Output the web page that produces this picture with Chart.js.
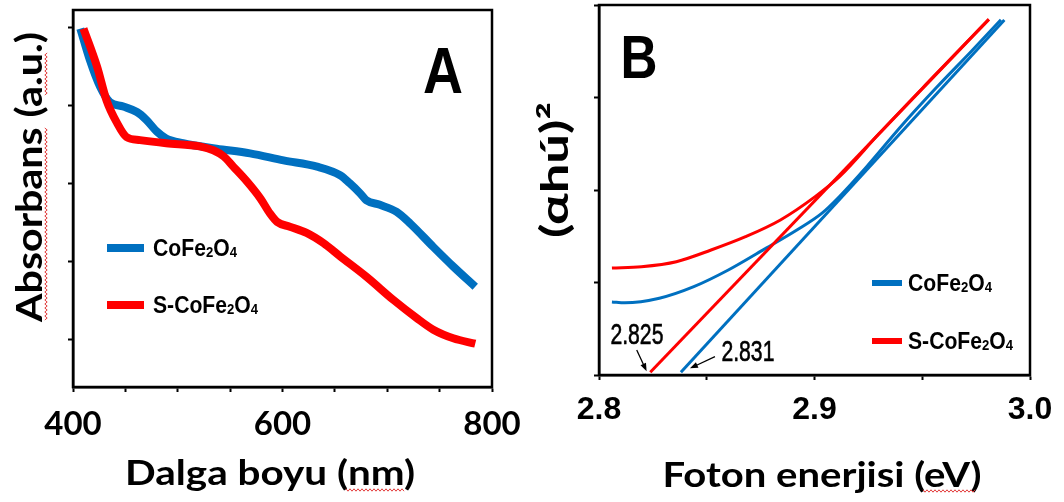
<!DOCTYPE html>
<html>
<head>
<meta charset="utf-8">
<script src="https://cdn.jsdelivr.net/npm/chart.js@4.4.1/dist/chart.umd.min.js"></script>
<style>
  html, body { margin: 0; padding: 0; background: #fff; }
  body { width: 1064px; height: 502px; position: relative; overflow: hidden; }
  canvas { position: absolute; top: 0; }
  #chartA { left: 0; }
  #chartB { left: 520px; }
</style>
</head>
<body>
<canvas id="chartA" width="520" height="502"></canvas>
<canvas id="chartB" width="544" height="502"></canvas>
<script>
// ---- Panel A: absorbance (a.u.) vs wavelength (nm)
const waveCoFe  = [407, 416, 426, 435, 448, 461, 470, 480, 489, 505, 537, 569, 601, 633, 655, 664, 674, 680, 693, 709, 722, 744, 763, 784];
const absCoFe   = [3.98, 3.58, 3.23, 3.04, 2.98, 2.91, 2.81, 2.66, 2.57, 2.51, 2.44, 2.38, 2.29, 2.21, 2.10, 2.00, 1.87, 1.78, 1.72, 1.63, 1.48, 1.18, 0.93, 0.67];
const waveSCoFe = [410, 423, 432, 442, 451, 464, 489, 521, 534, 544, 553, 566, 579, 588, 595, 607, 623, 639, 655, 680, 706, 728, 744, 763, 784];
const absSCoFe  = [3.98, 3.49, 3.06, 2.77, 2.59, 2.55, 2.51, 2.47, 2.42, 2.34, 2.21, 2.02, 1.80, 1.61, 1.50, 1.44, 1.36, 1.23, 1.06, 0.80, 0.50, 0.27, 0.12, 0.01, -0.06];
const waveTicks = [400, 600, 800];

// ---- Panel B: Tauc plot (αhν)² vs photon energy (eV)
const evCoFe    = [2.806, 2.812, 2.828, 2.844, 2.860, 2.876, 2.892, 2.9035, 2.9116, 2.9245, 2.9406, 2.9567, 2.9728, 2.9865];
const taucCoFe  = [0.79, 0.78, 0.83, 0.955, 1.135, 1.35, 1.57, 1.75, 1.93, 2.26, 2.70, 3.11, 3.50, 3.84];
const evSCoFe   = [2.806, 2.8197, 2.8359, 2.852, 2.868, 2.8842, 2.9003, 2.9116, 2.93, 2.955, 2.9809];
const taucSCoFe = [1.157, 1.171, 1.225, 1.351, 1.495, 1.676, 1.928, 2.144, 2.61, 3.22, 3.845];
// linear extrapolations to the energy axis
const fitEvCoFe    = [2.838, 2.9881];
const fitTaucCoFe  = [0.03, 3.838];
const fitEvSCoFe   = [2.8238, 2.9809];
const fitTaucSCoFe = [0.03, 3.845];
const energyTicks = [2.8, 2.9, 3.0];

// band gap call-outs (label anchor + arrow, in data units)
const gapNotes = [
  { text: '2.825', at: [2.8176, 0.34], from: [2.8175, 0.27], to: [2.8221, 0.04] },
  { text: '2.831', at: [2.8691, 0.155], from: [2.8538, 0.198], to: [2.8422, 0.072] }
];

const BLUE = '#0070C0';
const RED = '#FF0000';
const CALIBRI_LIKE = "Lato, 'Open Sans', sans-serif";
const ARIAL = "'Liberation Sans', Arial, sans-serif";

function xy(xs, ys) { return xs.map((x, i) => ({ x, y: ys[i] })); }

/** Draw text scaled horizontally to a target width (figure text is condensed) */
function fitText(ctx, t) {
  ctx.save();
  ctx.font = `${t.weight || 'bold'} ${t.size}px ${t.family}`;
  ctx.fillStyle = '#000';
  ctx.textAlign = t.align || 'center';
  ctx.textBaseline = 'alphabetic';
  const natural = ctx.measureText(t.text).width;
  const sx = t.width ? t.width / natural : 1;
  ctx.translate(t.x, t.y);
  if (t.rotate) ctx.rotate(-Math.PI / 2);
  ctx.scale(sx, 1);
  ctx.fillText(t.text, 0, 0);
  if (t.stroke) {
    ctx.lineWidth = t.stroke;
    ctx.strokeStyle = '#000';
    ctx.strokeText(t.text, 0, 0);
  }
  ctx.restore();
}

/** Chemical formula: unicode subscript digits drawn small */
function drawFormula(ctx, label, x, baseline, size, sx, weight) {
  ctx.save();
  ctx.translate(x, baseline);
  ctx.scale(sx, 1);
  ctx.fillStyle = '#000';
  ctx.textBaseline = 'alphabetic';
  ctx.textAlign = 'left';
  let cx = 0;
  for (const ch of label) {
    const code = ch.codePointAt(0);
    const sub = code >= 0x2080 && code <= 0x2089;
    const glyph = sub ? String.fromCharCode(48 + code - 0x2080) : ch;
    ctx.font = `${weight} ${sub ? size * 0.62 : size}px ${ARIAL}`;
    ctx.fillText(glyph, cx, sub ? 1 : 0);
    cx += ctx.measureText(glyph).width;
  }
  ctx.restore();
}

/** Word-style red spell-check underline */
function squiggle(ctx, x0, y0, x1, y1) {
  const len = Math.hypot(x1 - x0, y1 - y0);
  const ux = (x1 - x0) / len, uy = (y1 - y0) / len;
  ctx.save();
  ctx.strokeStyle = '#E23B3B';
  ctx.lineWidth = 1;
  ctx.beginPath();
  for (let d = 0, k = 0; d <= len; d += 2, k++) {
    const off = k % 2 ? 1.2 : -1.2;
    const px = x0 + ux * d - uy * off, py = y0 + uy * d + ux * off;
    if (k === 0) ctx.moveTo(px, py); else ctx.lineTo(px, py);
  }
  ctx.stroke();
  ctx.restore();
}

function arrow(ctx, x0, y0, x1, y1) {
  const a = Math.atan2(y1 - y0, x1 - x0);
  ctx.save();
  ctx.strokeStyle = '#000';
  ctx.fillStyle = '#000';
  ctx.lineWidth = 1.3;
  ctx.beginPath();
  ctx.moveTo(x0, y0);
  ctx.lineTo(x1 - 5 * Math.cos(a), y1 - 5 * Math.sin(a));
  ctx.stroke();
  ctx.beginPath();
  ctx.moveTo(x1, y1);
  ctx.lineTo(x1 - 8 * Math.cos(a) + 3 * Math.sin(a), y1 - 8 * Math.sin(a) - 3 * Math.cos(a));
  ctx.lineTo(x1 - 8 * Math.cos(a) - 3 * Math.sin(a), y1 - 8 * Math.sin(a) + 3 * Math.cos(a));
  ctx.closePath();
  ctx.fill();
  ctx.restore();
}

// frame, titles, in-plot legend, call-outs
const decor = {
  id: 'decor',
  afterDraw(chart, args, opts) {
    const ctx = chart.ctx;
    const a = chart.chartArea;
    ctx.save();
    ctx.strokeStyle = '#000';
    ctx.lineWidth = 2.5;
    ctx.strokeRect(a.left, a.top, a.right - a.left, a.bottom - a.top);
    ctx.restore();

    (opts.texts || []).forEach(t => fitText(ctx, t));
    (opts.squiggles || []).forEach(s => squiggle(ctx, ...s));

    const lg = opts.legend;
    if (lg) {
      lg.rows.forEach((idx, r) => {
        const ds = chart.data.datasets[idx];
        const y = lg.y + r * lg.gap;
        ctx.save();
        ctx.strokeStyle = ds.borderColor;
        ctx.lineWidth = lg.lw;
        ctx.beginPath();
        ctx.moveTo(lg.x, y);
        ctx.lineTo(lg.x + lg.len, y);
        ctx.stroke();
        ctx.restore();
        drawFormula(ctx, ds.label, lg.textX, y + lg.size * 0.36, lg.size, lg.sx, lg.weight);
      });
    }

    const xs = chart.scales.x, ys = chart.scales.y;
    (opts.notes || []).forEach(n => {
      arrow(ctx, xs.getPixelForValue(n.from[0]), ys.getPixelForValue(n.from[1]),
                 xs.getPixelForValue(n.to[0]), ys.getPixelForValue(n.to[1]));
      fitText(ctx, { text: n.text, x: xs.getPixelForValue(n.at[0]), y: ys.getPixelForValue(n.at[1]),
                     size: 29, family: ARIAL, weight: 'normal', width: 53, stroke: 0.6 });
    });
  }
};

function axisGrid() {
  return { drawOnChartArea: false, drawTicks: true, tickLength: 5, tickWidth: 2, tickColor: '#000' };
}

// ---- Panel A
new Chart(document.getElementById('chartA'), {
  type: 'line',
  data: {
    datasets: [
      { label: 'CoFe₂O₄', data: xy(waveCoFe, absCoFe), borderColor: BLUE, borderWidth: 8, order: 1 },
      { label: 'S-CoFe₂O₄', data: xy(waveSCoFe, absSCoFe), borderColor: RED, borderWidth: 8, order: 0 }
    ]
  },
  options: {
    responsive: false,
    animation: false,
    events: [],
    elements: { point: { radius: 0 }, line: { cubicInterpolationMode: 'monotone' } },
    layout: { padding: { left: 0, top: 10, right: 28, bottom: 0 } },
    scales: {
      x: {
        type: 'linear', min: 400, max: 800,
        ticks: {
          stepSize: 50, autoSkip: false, maxRotation: 0, padding: 13, color: '#000',
          font: { family: CALIBRI_LIKE, size: 33, weight: 'bold' },
          callback: v => waveTicks.includes(v) ? String(v) : ''
        },
        grid: axisGrid(),
        border: { display: true, color: '#000', width: 2.5 },
        afterFit: s => { s.height = 115; s.paddingLeft = 0; s.paddingRight = 0; }
      },
      y: {
        min: -0.615, max: 4.218,
        ticks: { stepSize: 1, includeBounds: false, padding: 0, callback: () => '' },
        grid: axisGrid(),
        border: { display: true, color: '#000', width: 2.5 },
        afterFit: s => { s.width = 73; s.paddingTop = 0; s.paddingBottom = 0; }
      }
    },
    plugins: {
      legend: { display: false },
      tooltip: { enabled: false },
      decor: {
        texts: [
          { text: 'A', x: 443, y: 93, size: 64, family: ARIAL, width: 40 },
          { text: 'Dalga boyu (nm)', x: 270, y: 485, size: 35, family: CALIBRI_LIKE, width: 290 },
          { text: 'Absorbans (a.u.)', x: 42, y: 177, size: 37, family: CALIBRI_LIKE, width: 290, rotate: true }
        ],
        squiggles: [[346, 490, 405, 490], [46, 95, 46, 53], [46, 320, 46, 128]],
        legend: { rows: [0, 1], x: 107, y: 248, gap: 57, len: 37, lw: 8, textX: 153, size: 23, sx: 0.92, weight: 'bold' }
      }
    }
  },
  plugins: [decor]
});

// ---- Panel B
new Chart(document.getElementById('chartB'), {
  type: 'line',
  data: {
    datasets: [
      { label: 'CoFe₂O₄', data: xy(evCoFe, taucCoFe), borderColor: BLUE, borderWidth: 3, order: 3 },
      { label: 'S-CoFe₂O₄', data: xy(evSCoFe, taucSCoFe), borderColor: RED, borderWidth: 3, order: 1 },
      { label: 'CoFe₂O₄ fit', data: xy(fitEvCoFe, fitTaucCoFe), borderColor: BLUE, borderWidth: 3, order: 2 },
      { label: 'S-CoFe₂O₄ fit', data: xy(fitEvSCoFe, fitTaucSCoFe), borderColor: RED, borderWidth: 3, order: 0 }
    ]
  },
  options: {
    responsive: false,
    animation: false,
    events: [],
    elements: { point: { radius: 0 }, line: { cubicInterpolationMode: 'monotone' } },
    layout: { padding: { left: 0, top: 5, right: 34, bottom: 0 } },
    scales: {
      x: {
        type: 'linear', min: 2.8, max: 3.0,
        ticks: {
          stepSize: 0.05, autoSkip: false, maxRotation: 0, padding: 11, color: '#000',
          font: { family: ARIAL, size: 32, weight: 'bold' },
          callback: v => energyTicks.some(t => Math.abs(t - v) < 1e-6) ? v.toFixed(1) : ''
        },
        grid: axisGrid(),
        border: { display: true, color: '#000', width: 2.5 },
        afterFit: s => { s.height = 127; s.paddingLeft = 0; s.paddingRight = 0; }
      },
      y: {
        min: 0, max: 4,
        ticks: { stepSize: 1, includeBounds: false, padding: 0, callback: () => '' },
        grid: axisGrid(),
        border: { display: true, color: '#000', width: 2.5 },
        afterFit: s => { s.width = 79; s.paddingTop = 0; s.paddingBottom = 0; }
      }
    },
    plugins: {
      legend: { display: false },
      tooltip: { enabled: false },
      decor: {
        texts: [
          { text: 'B', x: 119, y: 78, size: 62, family: ARIAL, width: 37 },
          { text: 'Foton enerjisi (eV)', x: 302, y: 487, size: 35, family: CALIBRI_LIKE, width: 319 },
          { text: '(αhú)²', x: 48, y: 170, size: 38, family: CALIBRI_LIKE, width: 136, rotate: true }
        ],
        squiggles: [[403, 491, 455, 491]],
        legend: { rows: [0, 1], x: 352, y: 283, gap: 58, len: 30, lw: 6, textX: 388, size: 23, sx: 0.92, weight: 'bold' },
        notes: gapNotes
      }
    }
  },
  plugins: [decor]
});
</script>
</body>
</html>
